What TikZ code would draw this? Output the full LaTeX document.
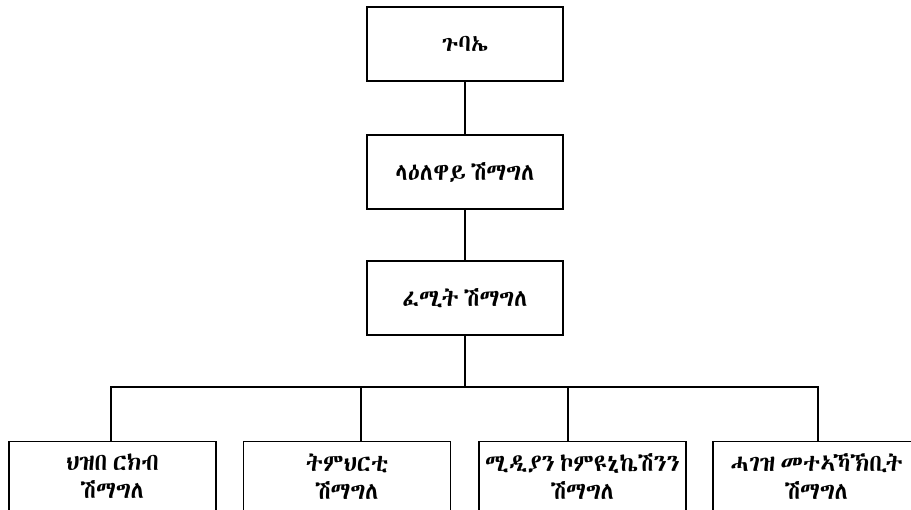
\documentclass[tikz,border=0pt]{standalone}
\usepackage{fontspec}
\IfFontExistsTF{Abyssinica SIL}{\newfontfamily\geez[WordSpace=0.5]{Abyssinica SIL}}{%
  \IfFontExistsTF{Noto Sans Ethiopic}{\newfontfamily\geez[WordSpace=0.5]{Noto Sans Ethiopic}}{%
    \newfontfamily\geez[WordSpace=0.5]{FreeSerif}}}
\usetikzlibrary{positioning}

\begin{document}
\begin{tikzpicture}[x=1pt, y=-1pt, line width=1.4pt,
      box/.style={rectangle, draw, inner sep=0pt, minimum width=196pt,
        minimum height=74pt, font=\geez\fontsize{24}{28}\selectfont},
      unit/.style={rectangle, draw, anchor=north, inner xsep=0pt, inner ysep=12pt,
        minimum width=207pt, text depth=40pt, align=center,
        font=\geez\fontsize{24}{28}\selectfont}]
      \useasboundingbox (0,0) rectangle (911,510);
      \clip (0,0) rectangle (911,510);
      % top of the tree
      \node[box] (gubae) at (465,44) {\raisebox{-9pt}{ጉባኤ}};
      \node[box] (laelaway) at (465,172) {ላዕለዋይ ሽማግለ};
      \node[box] (femit) at (465,298) {ፈሚት ሽማግለ};
      \path (gubae) edge (laelaway);
      \path (laelaway) edge (femit);
      % committees
      \node[unit] (hizb) at (112.5,441) {ህዝበ ርክብ\\ሽማግለ};
      \node[unit] (timhirti) at (347,441) {ትምህርቲ\\ሽማግለ};
      \node[unit] (media) at (582.5,441) {ሚዲያን ኮምዩኒኬሽንን\\ሽማግለ};
      \node[unit] (hagez) at (816.5,441) {ሓገዝ መተኣኻኽቢት\\ሽማግለ};
      % bus line
      \coordinate (bus) at (465,387);
      \draw (femit) -- (bus);
      \draw (bus) -| ([xshift=-1.5pt]hizb.north);
      \draw (bus) -| ([xshift=14pt]timhirti.north);
      \draw (bus) -| ([xshift=-14.5pt]media.north);
      \draw (bus) -| ([xshift=1.5pt]hagez.north);
  \end{tikzpicture}
\end{document}
